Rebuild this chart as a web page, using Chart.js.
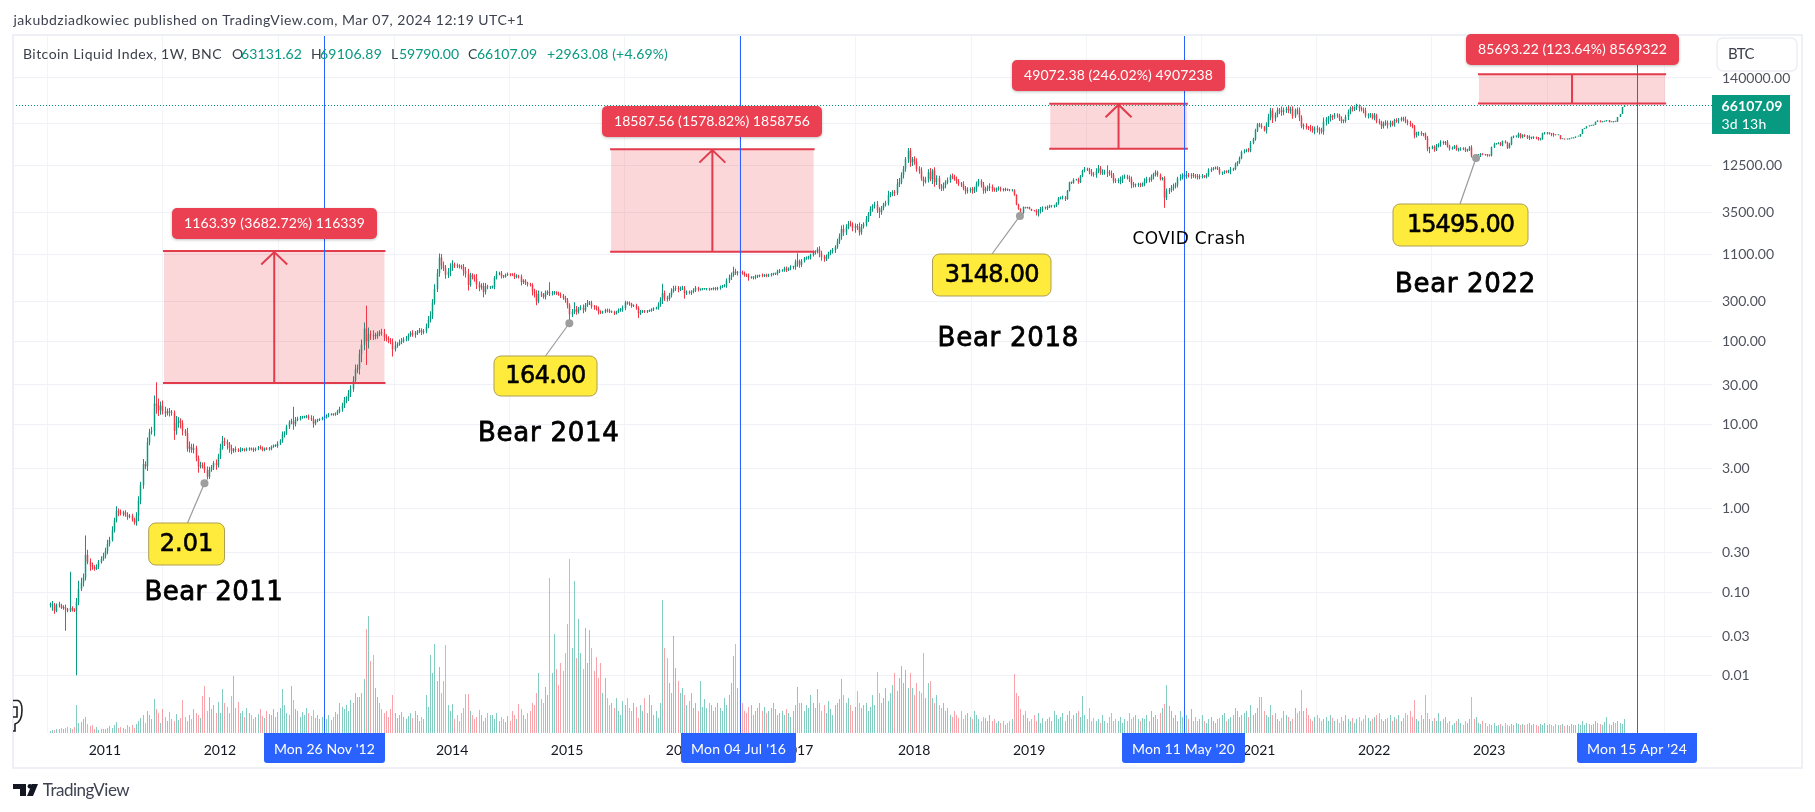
<!DOCTYPE html>
<html><head><meta charset="utf-8"><style>html,body{margin:0;background:#fff}canvas{display:block}</style>
<script src="https://cdn.jsdelivr.net/npm/chart.js@4"></script></head><body><canvas id="c" width="1815" height="812"></canvas>
<script>
// weekly closes from Jul 12 2010 (week index 0)
const closes=[
.07,.07,.06,.07,.07,.065,.066,.063,.06,.065,
.062,.06,.076,.11,.13,.15,.28,.23,.21,.2,
.19,.2,.23,.25,.27,.31,.38,.42,.55,.72,
.93,.92,.86,.9,.84,.8,.82,.74,.68,.82,
1.25,1.9,3.4,3.2,6.2,8.2,8.5,18,17,15,
17,14.5,13.8,14.5,14,14,8.5,10.5,11.3,10.5,
8.5,8,5.2,5.5,5,5.3,4,3.2,3.3,3.2,
2.9,2.4,2.9,3.1,3.5,3.3,4.2,5.3,6.4,6.2,
5.9,5.3,4.9,5.1,5,4.9,5.1,5.1,5,5.1,
5.2,5.1,5,5.2,5.4,5.3,5,5.2,5.1,5.2,
5.5,5.6,5.6,6,6.5,7.7,8,9.5,10.8,11,
10.2,11.5,11.8,12.2,12.4,12.5,12.6,12.1,11.7,10.4,
11.2,11.5,11.7,12,12.3,12.9,13.2,13.4,13.3,13.7,
14.5,15.5,17,20,21,24,27,34,46,47,
70,91,142,100,120,118,115,115,122,128,
125,112,108,104,98,80,88,92,97,100,
105,108,118,125,120,125,130,135,128,133,
150,180,200,290,420,650,1000,800,750,620,
680,750,830,800,790,780,770,690,640,470,
620,590,560,480,440,460,390,450,440,440,
445,570,640,650,600,590,620,630,625,620,
590,600,590,510,530,500,480,470,400,370,
300,370,360,340,380,390,370,375,380,375,
365,350,330,310,270,210,225,240,225,245,
250,235,270,285,285,260,255,245,225,220,
225,235,230,225,225,215,225,235,235,250,
290,285,280,265,265,250,215,225,230,225,
230,232,240,245,250,275,310,375,330,320,
355,395,420,430,415,430,430,375,385,380,
390,405,435,415,415,420,420,420,415,420,
425,420,430,445,455,460,530,580,620,680,
650,660,660,650,620,610,575,575,580,595,
600,610,605,610,605,620,630,640,640,680,
700,700,740,710,740,770,770,880,900,820,
910,980,1000,1000,1070,1160,1180,1250,1120,1020,
960,1030,1120,1190,1230,1340,1550,1780,2200,2000,
2300,2550,2500,2250,2380,2300,2000,2350,2500,2900,
3300,3800,4100,4300,3700,3500,3900,4300,4500,5600,
5800,6000,5900,7600,8000,9700,11500,15000,19000,13800,
15000,14000,11500,11000,8800,8100,8500,10500,8700,11000,
8000,8900,6900,6700,7300,8000,8400,9300,9200,8700,
8200,7600,7500,6700,6200,6400,6500,6300,6700,7500,
8200,7400,6300,6600,6800,7100,6500,6450,6600,6600,
6500,6400,6500,6450,6350,6350,5600,4300,3800,3400,
4000,3900,4000,3800,3650,3600,3450,3650,3800,3950,
3900,4000,4100,4100,4150,4500,5100,5200,5200,5000,
6300,7900,7800,8500,8500,8000,9400,10900,11500,11300,
10500,10000,9700,10800,11700,10300,10300,10400,10300,10100,
9700,8300,8200,8200,8300,9200,9300,9000,8700,7500,
7300,7400,7400,7300,7500,8200,8700,8500,9300,9900,
10400,9700,8700,8900,5200,6200,6400,6900,7100,7400,
8800,9000,9700,9300,9700,9500,9700,9500,9300,9100,
9200,9300,9200,9700,11000,11400,11600,11900,11500,10200,
10400,10700,10500,10800,11300,11400,13000,13800,15400,18300,
18700,19200,19100,23300,26000,33000,39000,38000,36000,33000,
39000,48000,57000,46000,51000,58000,57000,55000,58000,60000,
57000,60000,49000,58000,57000,47000,37000,38000,36000,35500,
35000,33000,35000,34000,33500,32000,42000,45000,47000,49000,
48000,50500,50000,46000,43000,43000,48000,55000,61000,60000,
61000,65000,61000,58500,57000,49500,50000,50500,47000,50000,
43000,41000,37000,40000,41000,38000,41000,39000,44000,43000,
44000,46000,45000,43000,41000,39000,37000,29000,31000,31000,
30000,30000,27000,20000,20500,21000,19500,21500,22500,24000,
23500,24000,21500,20000,20500,21500,19500,19500,20000,19800,
19000,19400,20700,16500,16300,16500,16800,17100,17000,16800,
16700,16600,20800,22800,23000,23400,22000,24500,23500,20500,
22500,27500,28000,28000,30000,27500,29000,28500,27000,27000,
27000,27100,26800,25800,26300,30500,30500,30500,30200,29700,
29300,29000,29000,26000,26000,25800,25900,26500,26600,27000,
27900,28000,29900,34500,35000,37000,37500,37800,38500,42000,
43500,41500,42000,42500,44000,41500,41500,42500,42000,48000,
52000,63131.62,66107.09];
// upper wick, percent above the candle body
const wickUp=[
8,12,6,5,10,4,6,8,3,170,5,4,12,25,15,12,70,15,10,8,6,8,6,8,10,10,12,10,12,8,
15,8,6,5,6,8,5,6,5,10,12,10,15,8,14,10,12,25,80,22,12,15,14,8,10,8,6,22,10,6,
8,5,16,15,8,12,6,8,10,8,12,10,9,7,6,10,8,12,15,10,8,6,9,4,8,5,6,4,3,5,
4,3,5,3,4,6,4,3,4,5,3,4,5,6,4,8,5,6,5,8,50,8,6,5,4,3,4,6,8,10,
4,3,3,4,3,4,5,3,2,3,5,6,8,8,5,9,10,12,15,12,14,15,18,87,22,12,15,10,8,6,
10,12,8,6,5,10,14,6,8,9,6,7,5,5,8,6,5,7,6,5,9,11,14,10,14,12,12,10,12,9,
10,14,12,5,6,5,5,9,12,15,6,5,6,14,8,7,9,10,5,4,4,6,8,4,6,3,4,5,3,4,
6,5,4,6,4,4,3,4,5,6,10,9,6,5,6,4,30,6,5,4,4,5,5,6,6,5,8,22,10,5,
8,10,6,9,6,7,4,5,6,4,3,4,5,6,3,3,3,5,6,7,5,4,5,3,4,6,5,5,3,3,
3,3,3,4,3,6,8,30,8,6,6,9,10,7,6,5,7,6,5,5,4,6,5,3,3,3,2,3,4,3,
4,5,4,4,3,4,6,8,7,14,8,5,4,6,5,4,6,4,3,5,4,3,6,4,5,3,4,3,3,5,
4,3,5,6,3,5,4,8,25,5,6,4,3,5,4,5,4,6,9,8,5,6,5,4,6,5,8,9,10,12,
9,7,8,6,7,6,14,7,6,8,6,8,6,8,10,8,6,5,6,12,5,6,7,14,12,8,8,6,7,7,
6,8,10,7,9,6,9,8,12,4,9,8,7,10,8,5,8,6,9,6,7,6,5,9,7,8,6,7,5,8,
6,5,8,6,7,9,5,6,4,8,6,4,5,3,2,3,3,2,2,2,2,1,1,1,1,1,5,4,6,4,
3,5,4,3,3,2,4,3,6,5,2,2,3,4,2,6,3,3,5,3,5,9,5,8,9,6,10,8,22,8,
9,6,7,8,12,5,6,5,6,7,7,4,6,6,5,8,6,5,6,4,6,5,4,3,5,8,6,7,8,7,
5,10,5,6,12,6,5,6,5,7,8,7,4,5,6,5,4,3,4,5,3,3,3,4,7,4,5,3,5,4,
5,4,6,6,4,5,4,5,6,4,6,9,8,7,6,7,6,12,7,6,9,6,7,4,7,9,7,5,6,4,
9,7,5,8,6,6,12,6,5,6,4,6,5,5,6,4,6,7,5,6,5,6,4,5,6,8,6,6,5,7,
5,6,5,6,7,6,6,5,4,5,6,5,5,8,4,5,3,4,3,3,4,3,4,5,3,4,5,6,3,5,
4,3,6,4,4,3,4,5,4,4,5,3,4,6,3,3,3,4,3,2,3,2,2,3,2,2,3,2,3,3,
5,2,3,2,4,3,3,3,2,7,3,4,3,3,3,2,4,4,3,2,4.5];
// lower wick, percent below the candle body
const wickDown=[
6,14,8,4,6,3,5,45,4,3,5,3,83,8,6,10,8,6,14,7,5,3,5,4,5,6,8,7,4,6,
5,12,4,6,5,8,4,5,6,8,14,10,9,8,12,8,6,14,20,15,12,8,10,6,10,8,22,10,12,14,
12,8,8,10,7,9,8,16,6,6,8,7,6,5,7,12,6,7,5,10,14,12,9,5,6,3,4,5,4,3,
4,3,5,3,4,4,3,3,2,3,4,3,3,5,4,6,8,5,6,6,14,6,4,4,3,3,4,5,5,11,
5,4,3,3,4,3,4,2,3,3,4,5,7,6,9,8,10,8,6,10,15,20,14,48,18,12,10,8,7,6,
7,10,8,9,6,18,6,5,4,5,4,5,6,4,6,8,5,4,7,5,6,5,7,8,6,8,9,10,8,10,
8,12,7,6,5,5,6,12,10,14,5,7,8,12,10,6,14,7,5,4,3,6,4,4,6,4,3,3,4,3,
6,4,5,9,5,6,6,4,12,10,10,5,6,5,7,6,6,5,4,5,4,6,5,7,9,17,7,6,8,5,
4,8,4,5,5,6,7,5,7,4,3,4,4,3,3,4,3,3,4,4,6,4,5,5,3,5,12,4,3,3,
3,3,3,4,2,5,6,10,8,7,5,6,4,5,7,4,5,14,5,4,6,4,4,5,3,2,2,3,3,2,
3,4,3,4,3,3,5,6,7,5,5,6,6,4,5,4,8,3,5,5,4,3,4,3,4,3,4,3,3,4,
4,3,3,5,3,5,6,7,12,8,6,4,4,5,5,4,6,5,10,10,7,5,6,5,6,8,5,6,8,9,
7,5,6,8,12,7,8,6,5,6,8,5,7,6,8,15,7,6,5,7,6,7,8,5,8,6,9,8,10,12,
10,8,8,9,6,12,5,7,6,13,12,8,5,7,6,8,6,7,6,5,7,6,7,5,8,6,7,8,6,9,
6,7,8,7,6,8,6,5,6,5,5,4,3,3,2,3,2,2,2,2,2,1,1,1,1,1,8,10,8,8,
4,5,3,3,4,3,5,3,5,5,2,2,3,2,2,5,3,3,4,4,6,6,5,7,6,5,6,5,11,6,
8,7,5,6,8,6,5,5,8,10,6,5,6,5,4,5,6,7,5,8,6,5,4,4,24,6,7,6,9,6,
7,6,5,5,6,5,8,6,5,6,5,4,3,4,5,4,4,3,3,4,5,4,3,3,8,4,3,5,4,3,
4,3,5,5,3,4,4,5,4,3,8,7,9,12,8,7,9,10,9,8,7,8,7,5,10,9,5,8,6,6,
8,6,10,8,12,6,8,10,12,10,8,5,6,7,6,6,5,8,6,7,6,5,9,5,7,5,7,6,5,7,
6,5,7,6,6,8,5,5,6,5,7,4,6,6,7,6,5,8,6,8,5,6,6,7,12,4,6,4,4,6,
5,6,4,5,3,3,3,5,3,3,4,3,3,5,3,8,3,5,2,2,4,3,3,2,2,2,2,3,2,3,
2,2,3,3,4,4,3,3,3,6,4,3,3,3,3,3,3,3,2,5,5.3];
// relative volume
const volumes=[
2,3,3,4,4,5,4,5,6,5,
4,6,28,10,11,14,16,9,7,8,
4,6,3,4,4,4,5,7,5,8,
11,5,6,5,4,8,6,8,5,9,
12,15,18,10,22,18,14,34,24,20,
10,24,16,12,21,14,12,19,13,15,
33,16,12,18,14,24,20,18,15,37,
47,22,36,24,28,20,31,20,44,30,
26,20,37,57,25,31,20,22,16,25,
20,18,14,16,19,24,17,15,22,19,
18,24,16,21,25,44,28,20,18,47,
33,24,22,16,21,18,25,20,17,23,
15,18,14,16,20,14,18,13,16,21,
19,30,26,24,28,22,33,30,40,36,
36,40,54,104,117,72,78,45,36,30,
24,20,22,16,24,38,20,15,18,21,
16,14,17,20,15,22,18,12,16,14,
38,26,78,60,89,52,66,40,52,88,
28,22,29,14,18,12,20,25,39,39,
22,18,14,16,23,18,12,15,20,18,
18,14,20,12,16,14,11,17,12,22,
18,14,29,24,18,14,20,22,30,28,
40,60,34,30,46,38,155,60,99,64,
48,70,62,80,109,174,85,152,75,114,
80,64,105,70,103,85,62,76,55,70,
40,55,35,28,30,25,35,22,18,32,
28,35,25,22,30,26,15,28,22,35,
20,38,28,18,22,15,30,133,85,75,
50,40,97,65,52,40,45,38,28,32,
40,25,30,22,52,26,34,25,30,28,
22,26,30,25,22,35,28,38,50,77,
89,45,40,30,22,20,26,28,18,22,
25,30,22,26,20,22,25,30,24,18,
20,22,18,24,20,16,22,28,46,30,
30,22,28,25,38,30,25,44,30,22,
28,20,32,24,18,28,30,34,54,38,
30,35,28,22,26,42,30,25,28,30,
22,26,38,28,61,40,30,35,45,32,
40,48,60,42,55,67,50,63,45,60,
45,38,50,42,40,80,35,50,52,35,
30,38,28,25,30,22,25,18,16,22,
18,15,22,14,18,20,16,14,22,18,
14,12,16,15,12,18,12,14,10,12,
10,12,8,10,12,14,59,40,37,24,
18,22,15,12,14,18,12,20,10,15,
12,14,16,12,22,18,14,16,20,12,
18,22,14,18,20,22,16,37,18,14,
25,12,15,12,14,10,18,12,10,16,
20,12,14,12,16,10,14,12,20,14,
16,18,14,12,15,14,18,12,22,16,
18,14,20,25,29,48,27,22,15,18,
12,22,16,29,18,14,24,12,16,12,
14,18,12,10,14,16,12,10,14,15,
18,20,12,14,16,18,25,22,16,18,
20,22,16,28,18,20,25,36,36,22,
18,16,28,18,20,14,12,15,22,18,
16,12,14,25,20,22,43,22,25,18,
14,12,16,18,15,12,14,16,12,18,
15,12,14,10,16,12,18,14,12,15,
10,14,16,12,14,18,15,12,14,16,
18,20,14,12,14,15,18,12,16,14,
18,12,15,20,18,22,16,33,14,12,
18,14,38,20,14,12,15,12,20,12,
14,16,10,12,8,10,12,14,10,8,
12,10,14,36,14,16,10,9,12,10,
7,9,8,10,7,8,9,7,10,8,
7,9,8,10,9,8,9,8,9,10,
8,9,8,7,9,8,10,8,9,8,
7,9,8,8,9,7,8,7,9,8,
8,9,8,12,8,10,9,8,9,12,
10,9,8,11,16,9,8,11,10,12,
10,9,14];
// y axis lines, x axis year ticks, and reference lines
const priceTicks=[140000,40000,12500,3500,1100,300,100,30,10,3,1,.3,.1,.03,.01];
const yearTicks=[25,77,130,182,234,286,338,391,443,495,547,599,651,704];
const yearLabels=['2011','2012','2013','2014','2015','2016','2017','2018','2019','2020','2021','2022','2023','2024'];
const markerWeeks=[124,312,513,718];
const markerLabels=["Mon 26 Nov '12","Mon 04 Jul '16","Mon 11 May '20","Mon 15 Apr '24"];
const lastPrice=66107.09;
const rangeBases=[31.59,1177.3,19947,69309];
const rangeTops=[1194.98,19764.9,69019,155002];
const rangeStart=[51.7,253.9,452.5,646.4];
const rangeEnd=[151.4,345.5,514.3,730.6];
const rangeLabels=["1163.39 (3682.72%) 116339","18587.56 (1578.82%) 1858756","49072.38 (246.02%) 4907238","85693.22 (123.64%) 8569322"];
const lowWeeks=[70,235,438.8,645.1];
const lowPrices=[2.01,164,3148,15495];

const UP='#089981',DOWN='#F23645',SANS='Lato';
const opens=closes.map((c,i)=>i?closes[i-1]:c);
const isUp=closes.map((c,i)=>c>=opens[i]);
const highs=closes.map((c,i)=>Math.max(c,opens[i])*(1+(wickUp[i]||0)/100));
const lows=closes.map((c,i)=>Math.min(c,opens[i])*(1-(wickDown[i]||0)/100));

function rr(ctx,x,y,w,h,r){ctx.beginPath();ctx.roundRect(x,y,w,h,r);}
function txt(ctx,s,x,y,font,color,width,align,stroke){
  ctx.save();ctx.font=font;ctx.fillStyle=color;ctx.textBaseline='middle';ctx.textAlign='left';
  ctx.letterSpacing='0px';
  const m=ctx.measureText(s).width;
  const w=width||m;
  if(width){ctx.letterSpacing=((width-m)/s.length).toFixed(3)+'px';}
  if(align==='center')x-=w/2;
  ctx.fillText(s,x,y);
  if(stroke){ctx.lineWidth=stroke;ctx.strokeStyle=color;ctx.strokeText(s,x,y);}
  ctx.restore();
}
const overlay={id:'overlay',
 afterDatasetsUpdate(ch){
  ch.data.datasets.forEach((d,k)=>ch.getDatasetMeta(k).data.forEach(el=>{el.x=Math.round(el.x)+.5;}));
 },
 beforeDraw(ch){const c=ch.ctx;c.save();c.fillStyle='#fff';c.fillRect(0,0,1815,812);c.restore();},
 afterDatasetsDraw(ch){
  const c=ch.ctx,X=ch.scales.x,Y=ch.scales.y,a=ch.chartArea;
  const px=v=>X.getPixelForValue(v),py=v=>Y.getPixelForValue(v);
  c.save();
  // last price line
  c.strokeStyle=UP;c.lineWidth=1;c.setLineDash([1,2]);
  c.beginPath();c.moveTo(a.left,Math.round(py(lastPrice))+.5);c.lineTo(a.right,Math.round(py(lastPrice))+.5);c.stroke();c.setLineDash([]);
  // range boxes
  rangeBases.forEach((b,k)=>{
    const x0=px(rangeStart[k]),x1=px(rangeEnd[k]),y0=py(b),y1=py(rangeTops[k]),m=(x0+x1)/2;
    c.fillStyle='rgba(242,54,69,.2)';c.fillRect(x0,y1,x1-x0,y0-y1);
    c.strokeStyle='#E23B4C';c.lineWidth=2;
    c.beginPath();c.moveTo(x0-1,y0);c.lineTo(x1+1,y0);c.moveTo(x0-1,y1);c.lineTo(x1+1,y1);c.moveTo(m,y0);c.lineTo(m,y1);
    if(k<3){c.moveTo(m-13,y1+13.5);c.lineTo(m,y1+1);c.lineTo(m+13,y1+13.5);}
    c.stroke();
  });
  // cycle lines
  c.strokeStyle='#2962FF';c.lineWidth=1;
  markerWeeks.forEach(w=>{const x=Math.round(px(w))+.5;c.beginPath();c.moveTo(x,a.top);c.lineTo(x,a.bottom);c.stroke();});
  c.restore();
 },
 afterDraw(ch){
  const c=ch.ctx,X=ch.scales.x,Y=ch.scales.y;
  const px=v=>X.getPixelForValue(v),py=v=>Y.getPixelForValue(v);
  c.save();
  // frame
  c.strokeStyle='#eef0f5';c.lineWidth=2;c.strokeRect(13,35,1789,733);
  // callouts
  const boxes=[[148.7,523,75.8,42,187.5],[494,356,103,40,545.5],[932.5,254,118.5,42,992],[1393,204,135,42,1460]];
  lowPrices.forEach((p,k)=>{
    const b=boxes[k],dx=px(lowWeeks[k]),dy=py(p);
    c.strokeStyle='#9a9a9a';c.lineWidth=1.2;c.beginPath();c.moveTo(dx,dy);c.lineTo(b[4],b[1]);c.stroke();
    c.fillStyle='#9e9e9e';c.beginPath();c.arc(dx,dy,4,0,7);c.fill();
    rr(c,b[0],b[1],b[2],b[3],7);c.fillStyle='#FFEB3B';c.fill();c.strokeStyle='#ad9f55';c.lineWidth=1;c.stroke();
    const s=p.toFixed(2);
    txt(c,s,b[0]+b[2]/2,b[1]+b[3]/2+.5,'24px "DejaVu Sans"','#000',s.length*13.4,'center',.6);
  });
  // range labels
  const lb=[[172,208,205,31],[602,106,220,31],[1012,60,213,31],[1466,34,213,31]];
  rangeLabels.forEach((s,k)=>{
    const b=lb[k];
    c.save();c.shadowColor='rgba(0,0,0,.25)';c.shadowBlur=3;c.shadowOffsetY=1;
    rr(c,b[0],b[1],b[2],b[3],5);c.fillStyle='#EB4051';c.fill();c.restore();
    txt(c,s,b[0]+b[2]/2,b[1]+b[3]/2,'14px '+SANS,'#fff',b[2]-24,'center');
  });
  // notes
  const notes=[['Bear 2011',144.6,593,138.5],['Bear 2014',478,434.5,141.5],['Bear 2018',937.6,339.5,141.5],['Bear 2022',1395,285.5,141]];
  notes.forEach(n=>txt(c,n[0],n[1],n[2],'26px "DejaVu Sans"','#000',n[3],'left',.8));
  txt(c,'COVID Crash',1132.6,239.5,'17px "DejaVu Sans"','#000',113);
  // marker labels
  const ml=[[264,121],[681,115],[1122,123],[1577,120]];
  markerLabels.forEach((s,k)=>{
    rr(c,ml[k][0],733,ml[k][1],30,[0,0,3,3]);c.fillStyle='#2962FF';c.fill();
    txt(c,s,ml[k][0]+ml[k][1]/2,749,'14px '+SANS,'#fff',ml[k][1]-20,'center');
  });
  // price tag
  c.fillStyle=UP;c.fillRect(1712,95,78,39);
  txt(c,lastPrice.toFixed(2),1721.5,106,'bold 14px '+SANS,'#fff',61);
  txt(c,'3d 13h',1721.5,124,'14px '+SANS,'#fff',45);
  // symbol button
  rr(c,1717,38,80,33,6);c.fillStyle='#fff';c.fill();c.strokeStyle='#eceef3';c.lineWidth=1.5;c.stroke();
  txt(c,'BTC',1728,54.5,'15px '+SANS,'#3a3f4a',26);
  // header and legend
  txt(c,'jakubdziadkowiec published on TradingView.com, Mar 07, 2024 12:19 UTC+1',13.5,20,'14px '+SANS,'#3d4250',511);
  txt(c,'Bitcoin Liquid Index, 1W, BNC',23,54,'14px '+SANS,'#3a3f4a',199);
  [['O',232,241,'63131.62',61],['H',311,320,'69106.89',62],['L',391,399,'59790.00',60],['C',468,477,'66107.09',60]].forEach(r=>{
    txt(c,r[0],r[1],54,'14px '+SANS,'#3a3f4a');txt(c,r[3],r[2],54,'14px '+SANS,UP,r[4]);});
  txt(c,'+2963.08 (+4.69%)',547,54,'14px '+SANS,UP,121);
  // footer logo
  c.fillStyle='#131722';
  c.fillRect(13,784,13,5);c.fillRect(20,784,6,12);
  c.beginPath();c.arc(30,786.3,2.4,0,7);c.fill();
  c.beginPath();c.moveTo(32,784);c.lineTo(38,784);c.lineTo(33,796);c.lineTo(27,796);c.closePath();c.fill();
  txt(c,'TradingView',42.7,790.5,'17px '+SANS,'#3d4250',86.5);
  // chart-pane glyph
  c.strokeStyle='#222';c.lineWidth=1.6;c.beginPath();
  c.moveTo(13,700.5);c.lineTo(18,700.5);c.quadraticCurveTo(22,702,22,710);c.quadraticCurveTo(22,722,15,724);c.lineTo(15,731);c.lineTo(13,731);
  c.moveTo(13,707);c.lineTo(17,707);c.lineTo(17,717);c.lineTo(13,717);c.stroke();
  c.restore();
 }};

new Chart(document.getElementById('c').getContext('2d'),{
 data:{datasets:[
  {type:'bar',label:'Volume',yAxisID:'y1',grouped:false,order:3,barThickness:1,inflateAmount:0,
   data:volumes.map((v,i)=>({x:i,y:v})),backgroundColor:volumes.map((v,i)=>isUp[i]?'rgba(8,153,129,.5)':'rgba(242,54,69,.45)')},
  {type:'bar',label:'Wicks',yAxisID:'y',grouped:false,order:2,barThickness:1,inflateAmount:0,
   data:closes.map((c,i)=>({x:i,y:[lows[i],highs[i]]})),backgroundColor:isUp.map(u=>u?UP:DOWN)},
  {type:'bar',label:'Bodies',yAxisID:'y',grouped:false,order:1,barThickness:1.5,minBarLength:1,inflateAmount:0,
   data:closes.map((c,i)=>({x:i,y:[Math.min(c,opens[i]),Math.max(c,opens[i])]})),backgroundColor:isUp.map(u=>u?UP:DOWN)}
 ]},
 options:{responsive:false,animation:false,events:[],
  layout:{padding:{left:13,top:35,right:13,bottom:44}},
  plugins:{legend:{display:false},tooltip:{enabled:false}},
  scales:{
   x:{type:'linear',min:-16.6,max:751.8,offset:false,
    afterBuildTicks(s){s.ticks=yearTicks.map(v=>({value:v}));},
    afterFit(s){s.height=35;},
    grid:{color:'#f2f4f8',drawTicks:false},border:{display:false},
    ticks:{autoSkip:false,maxRotation:0,padding:9,color:'#131722',font:{family:SANS,size:14},
     callback(v){return yearLabels[yearTicks.indexOf(v)]||'';}}},
   y:{type:'logarithmic',position:'right',min:.00208,max:457000,
    afterBuildTicks(s){s.ticks=priceTicks.map(v=>({value:v}));},
    afterFit(s){s.width=90;},
    grid:{color:'#eff1f6',drawTicks:false},border:{display:false},
    ticks:{autoSkip:false,padding:10,color:'#50535e',font:{family:SANS,size:14},
     callback(v){return Number(v).toFixed(2);}}},
   y1:{type:'linear',display:false,min:0,max:698}
  }},
 plugins:[overlay]
});
</script></body></html>
